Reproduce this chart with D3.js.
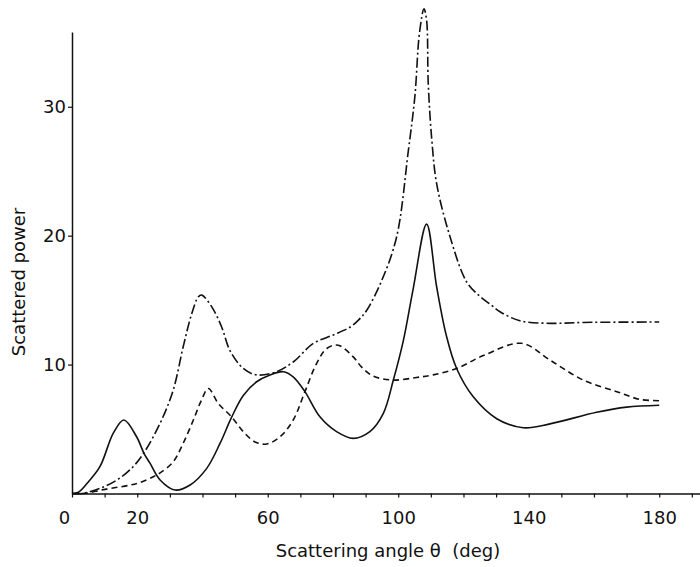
<!DOCTYPE html>
<html>
<head>
<meta charset="utf-8">
<script src="https://cdn.jsdelivr.net/npm/d3@7"></script>
<style>
  html, body { margin: 0; padding: 0; background: #fff; }
  svg { display: block; }
  text { font-family: "DejaVu Sans", sans-serif; fill: #111; }
  .axis-title { white-space: pre; }
</style>
</head>
<body>
<svg id="chart" width="700" height="567"></svg>
<script>
// Scattered power versus scattering angle for three cases.
const solidTheta = [0, 2, 5, 8.6, 12.7, 15.9, 19.8, 22.1, 23.9, 27, 31.6, 36.2, 41.3, 45.4, 48.9, 52.5, 56.6, 60.7, 64.8, 67.8, 71.4, 76, 81.1, 86.2, 91.3, 95.4, 98.5, 101.6, 104.6, 108.7, 111.8, 114.8, 117.9, 123, 130.2, 138.3, 146.5, 160.8, 170, 180];
const solidPower = [0, 0.1, 0.9, 2.1, 4.7, 5.7, 4.4, 3.1, 2.35, 1.05, 0.27, 0.66, 1.95, 3.9, 5.9, 7.6, 8.67, 9.2, 9.45, 9.05, 7.9, 5.95, 4.8, 4.28, 4.8, 6.2, 8.8, 11.9, 15.9, 20.9, 16, 12.2, 9.7, 7.5, 5.8, 5.1, 5.4, 6.3, 6.7, 6.85];

const dashedTheta = [0, 3, 5, 9.6, 17.8, 20.8, 24.9, 27, 31, 34.1, 37.2, 39.7, 41.8, 44.8, 48.9, 52.5, 56.1, 59.7, 63.8, 67.8, 71.4, 75, 78.1, 81.6, 86.2, 88.8, 92.4, 98.5, 105.6, 110.7, 117.9, 126.1, 137.8, 146.5, 156.7, 167, 174.1, 180];
const dashedPower = [0, 0, 0.05, 0.3, 0.65, 0.85, 1.3, 1.6, 2.45, 3.9, 5.7, 7.25, 8.15, 7.0, 5.95, 4.8, 4.0, 3.84, 4.4, 5.7, 7.9, 10.1, 11.25, 11.5, 10.6, 9.8, 9.1, 8.8, 9.0, 9.2, 9.7, 10.7, 11.65, 10.35, 8.8, 7.9, 7.3, 7.2];

const dashDotTheta = [0, 3, 9.6, 14.7, 18.8, 21.9, 27, 31, 34.1, 36.7, 38.7, 39.7, 42.8, 45.9, 48.4, 52.5, 56.6, 62.7, 67.8, 74, 80.1, 85.2, 87.8, 90.3, 94.9, 99.5, 103.1, 105.1, 106.5, 107.9, 108.7, 109.2, 110.3, 111.8, 115.9, 121, 125, 128.1, 131.2, 137.3, 146.5, 156.7, 180];
const dashDotPower = [0, 0, 0.5, 1.2, 2.1, 3.1, 5.45, 8.0, 11.4, 13.95, 15.25, 15.4, 14.5, 12.9, 11.1, 9.7, 9.2, 9.45, 10.2, 11.65, 12.3, 12.9, 13.45, 14.2, 16.5, 19.9, 26.6, 30.8, 35.7, 37.6, 36.7, 31.8, 27.4, 24, 19.9, 16.4, 15.3, 14.7, 14.1, 13.4, 13.2, 13.27, 13.3];

const xTicks = d3.range(0, 200, 10);
const xLabels = [0, 20, 60, 100, 140, 180];
const yTicks = [10, 20, 30];

const svg = d3.select("#chart");

const x = d3.scaleLinear().domain([0, 192.5]).range([72, 700]);
const y = d3.scaleLinear().domain([0, 35.8]).range([493.5, 32]);

// X axis
const xAxis = svg.append("g")
  .attr("transform", `translate(0,${y(0)})`)
  .call(d3.axisBottom(x)
    .tickValues(xTicks)
    .tickSizeInner(4)
    .tickSizeOuter(0)
    .tickPadding(14)
    .tickFormat(d => xLabels.includes(d) ? d : ""));
xAxis.select(".domain").attr("stroke", "#111").attr("stroke-width", 1.5);
xAxis.selectAll(".tick line").attr("stroke", "#111").attr("stroke-width", 1.2);
xAxis.selectAll(".tick text")
  .attr("font-size", 18)
  .attr("fill", "#111")
  .attr("font-family", "DejaVu Sans, sans-serif")
  .attr("dx", d => d === 0 ? -8 : 0);

// Y axis
const yAxis = svg.append("g")
  .attr("transform", `translate(${x(0)},0)`)
  .call(d3.axisLeft(y)
    .tickValues(yTicks)
    .tickSizeInner(4)
    .tickSizeOuter(0)
    .tickPadding(2));
yAxis.select(".domain").attr("stroke", "#111").attr("stroke-width", 1.5);
yAxis.selectAll(".tick line").attr("stroke", "#111").attr("stroke-width", 1.2);
yAxis.selectAll(".tick text")
  .attr("font-size", 18)
  .attr("fill", "#111")
  .attr("font-family", "DejaVu Sans, sans-serif");

// Axis titles
svg.append("text")
  .attr("class", "axis-title")
  .attr("x", 388)
  .attr("y", 557)
  .attr("text-anchor", "middle")
  .attr("font-size", 18)
  .text("Scattering angle θ  (deg)");

svg.append("text")
  .attr("class", "axis-title")
  .attr("transform", "translate(25,282) rotate(-90)")
  .attr("text-anchor", "middle")
  .attr("font-size", 18)
  .text("Scattered power");

// Curves
const line = d3.line()
  .x(d => x(d[0]))
  .y(d => y(d[1]))
  .curve(d3.curveCatmullRom.alpha(0.5));

const series = [
  { theta: solidTheta, power: solidPower, dash: null, width: 1.6 },
  { theta: dashedTheta, power: dashedPower, dash: "6,4", width: 1.6 },
  { theta: dashDotTheta, power: dashDotPower, dash: "10,3,2,3", width: 1.6 }
];

series.forEach(s => {
  svg.append("path")
    .datum(d3.zip(s.theta, s.power))
    .attr("fill", "none")
    .attr("stroke", "#111")
    .attr("stroke-width", s.width)
    .attr("stroke-linejoin", "round")
    .attr("stroke-dasharray", s.dash)
    .attr("d", line);
});
</script>
</body>
</html>
